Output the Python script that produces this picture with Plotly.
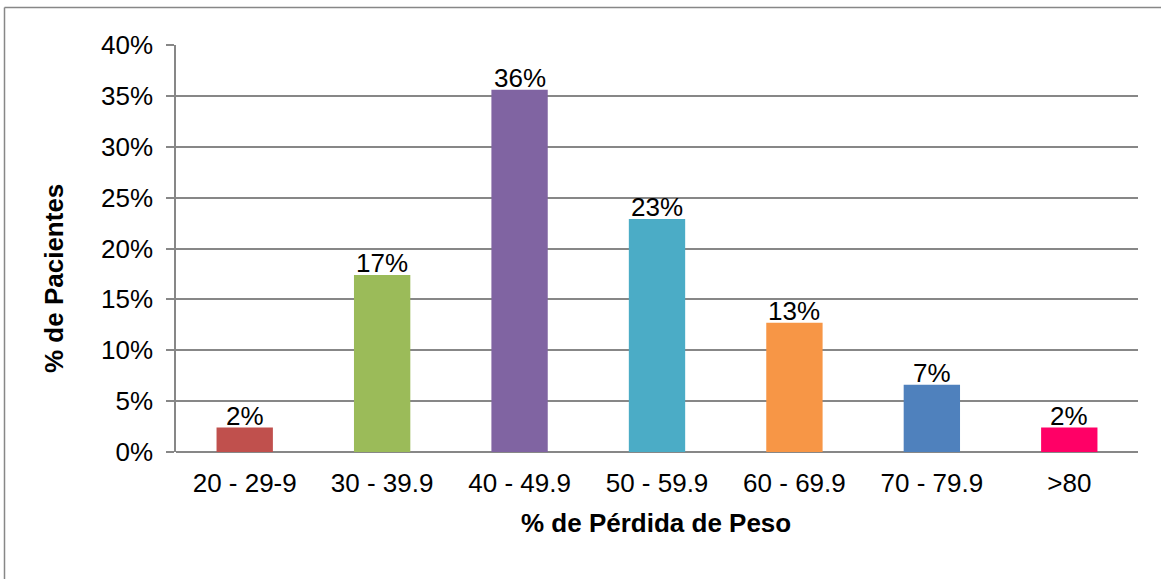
import plotly.graph_objects as go

# Weight-loss ranges and share of patients in each range
categories = ["20 - 29-9", "30 - 39.9", "40 - 49.9", "50 - 59.9", "60 - 69.9", "70 - 79.9", ">80"]
patient_share = [0.024, 0.174, 0.356, 0.229, 0.127, 0.066, 0.024]
bar_colors = ["#C0504D", "#9BBB59", "#8064A2", "#4BACC6", "#F79646", "#4F81BD", "#FF0066"]
y_ticks = [0, 0.05, 0.10, 0.15, 0.20, 0.25, 0.30, 0.35, 0.40]

FONT = "Liberation Sans, Arial, sans-serif"
FS = 26
GRID = "#878787"

fig = go.Figure(
    go.Bar(
        x=categories,
        y=patient_share,
        marker=dict(color=bar_colors, line=dict(width=0)),
        hoverinfo="x+y",
    )
)

# value labels above each bar
for cat, val in zip(categories, patient_share):
    fig.add_annotation(
        x=cat, y=val, text=f"{val:.0%}", showarrow=False,
        xanchor="center", yanchor="bottom", yshift=-5,
        font=dict(family=FONT, size=FS, color="#000000"),
    )

# axis titles
fig.add_annotation(
    xref="paper", yref="paper", x=(656 - 176) / 962, y=(452 - 523) / 407,
    text="<b>% de Pérdida de Peso</b>", showarrow=False,
    xanchor="center", yanchor="middle",
    font=dict(family=FONT, size=FS, color="#000000"),
)
fig.add_annotation(
    xref="paper", yref="paper", x=(54 - 176) / 962, y=(452 - 279) / 407,
    text="<b>% de Pacientes</b>", showarrow=False, textangle=-90,
    xanchor="center", yanchor="middle",
    font=dict(family=FONT, size=FS, color="#000000"),
)

# chart-area frame (left and top edges)
fl = (4.5 - 176) / 962
ft = (452 - 7.5) / 407
fig.add_shape(type="line", xref="paper", yref="paper", x0=fl, x1=fl, y0=-0.5, y1=ft,
              line=dict(color=GRID, width=1.5))
fig.add_shape(type="line", xref="paper", yref="paper", x0=fl, x1=1.3, y0=ft, y1=ft,
              line=dict(color=GRID, width=1.5))

fig.update_layout(
    width=1161, height=579,
    margin=dict(l=176, r=23, t=45, b=127),
    paper_bgcolor="white", plot_bgcolor="white",
    bargap=0.59,
    showlegend=False,
    font=dict(family=FONT, size=FS, color="#000000"),
    xaxis=dict(
        showgrid=False, showline=False, zeroline=False, ticks="",
        tickfont=dict(family=FONT, size=FS, color="#000000"),
        ticklabelstandoff=13,
    ),
    yaxis=dict(
        range=[0, 0.4], tickvals=y_ticks, tickformat=".0%",
        showgrid=True, gridcolor=GRID, gridwidth=1.5,
        showline=True, linecolor=GRID, linewidth=1.5,
        zeroline=True, zerolinecolor=GRID, zerolinewidth=1.5,
        ticks="outside", ticklen=8, tickcolor=GRID, tickwidth=1.5,
        tickfont=dict(family=FONT, size=FS, color="#000000"),
        ticklabelstandoff=8,
    ),
)

fig.write_html("out.html")
